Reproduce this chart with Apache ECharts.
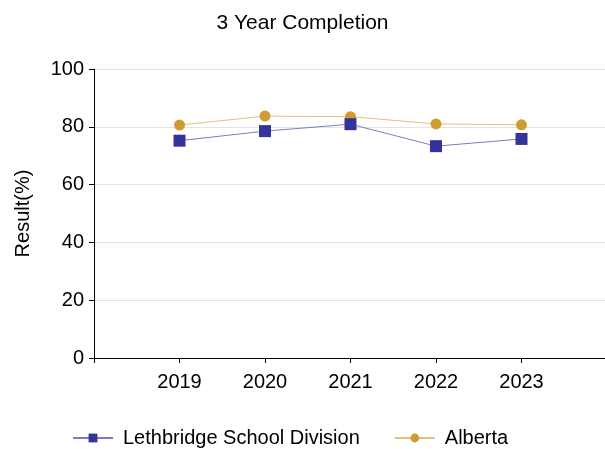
<!DOCTYPE html>
<html>
<head>
<meta charset="utf-8">
<script src="https://cdn.jsdelivr.net/npm/echarts@6/dist/echarts.min.js"></script>
<style>
  html, body { margin: 0; padding: 0; background: #fff; }
  #chart { width: 605px; height: 449px; }
</style>
</head>
<body>
<div id="chart"></div>
<script>
// years on the x axis
const years = [2019, 2020, 2021, 2022, 2023];
// 3 year completion results (%)
const lethbridge = [75.2, 78.5, 80.9, 73.3, 75.8];
const alberta = [80.6, 83.7, 83.5, 81.0, 80.7];
const yTicks = [0, 20, 40, 60, 80, 100];

const font = "Liberation Sans, Arial, sans-serif";

function pairs(vals) {
  return years.map((y, i) => [y, vals[i]]);
}

const chart = echarts.init(document.getElementById("chart"));
chart.setOption({
  animation: false,
  title: {
    text: "3 Year Completion",
    left: "center",
    top: 8,
    textStyle: { fontFamily: font, fontSize: 21, fontWeight: "normal", color: "#000" },
  },
  grid: {
    left: 94,
    width: 513,
    top: 69,
    bottom: 91,
    containLabel: false,
    outerBoundsMode: "none",
  },
  legend: {
    top: 428,
    left: 72,
    padding: 0,
    itemWidth: 40,
    itemHeight: 11,
    itemGap: 34,
    textStyle: { fontFamily: font, fontSize: 20, color: "#000", padding: [0, 0, 0, 5] },
    data: ["Lethbridge School Division", "Alberta"],
  },
  xAxis: {
    type: "value",
    min: 2018,
    max: 2024,
    interval: 1,
    splitLine: { show: false },
    axisLine: { lineStyle: { color: "#000", width: 1 } },
    axisTick: { show: true, length: 5, lineStyle: { color: "#000" } },
    axisLabel: {
      fontFamily: font,
      fontSize: 20,
      color: "#000",
      margin: 14,
      formatter: (v) => (years.includes(v) ? String(v) : ""),
    },
  },
  yAxis: {
    type: "value",
    min: yTicks[0],
    max: yTicks[yTicks.length - 1],
    interval: 20,
    name: "Result(%)",
    nameLocation: "middle",
    nameGap: 61,
    nameTextStyle: { fontFamily: font, fontSize: 20, color: "#000" },
    axisLine: { show: true, lineStyle: { color: "#000", width: 1 } },
    axisTick: { show: true, length: 5, lineStyle: { color: "#000" } },
    splitLine: { lineStyle: { color: "#e3e3e3", width: 1 } },
    axisLabel: { fontFamily: font, fontSize: 20, color: "#000", margin: 10 },
  },
  series: [
    {
      name: "Lethbridge School Division",
      type: "line",
      data: pairs(lethbridge),
      symbol: "rect",
      symbolSize: 12,
      itemStyle: { color: "#333399" },
      lineStyle: { color: "#7b7bc6", width: 1 },
      z: 3,
    },
    {
      name: "Alberta",
      type: "line",
      data: pairs(alberta),
      symbol: "circle",
      symbolSize: 11,
      itemStyle: { color: "#d19a32" },
      lineStyle: { color: "#e2bf7c", width: 1 },
      z: 2,
    },
  ],
});
</script>
</body>
</html>
